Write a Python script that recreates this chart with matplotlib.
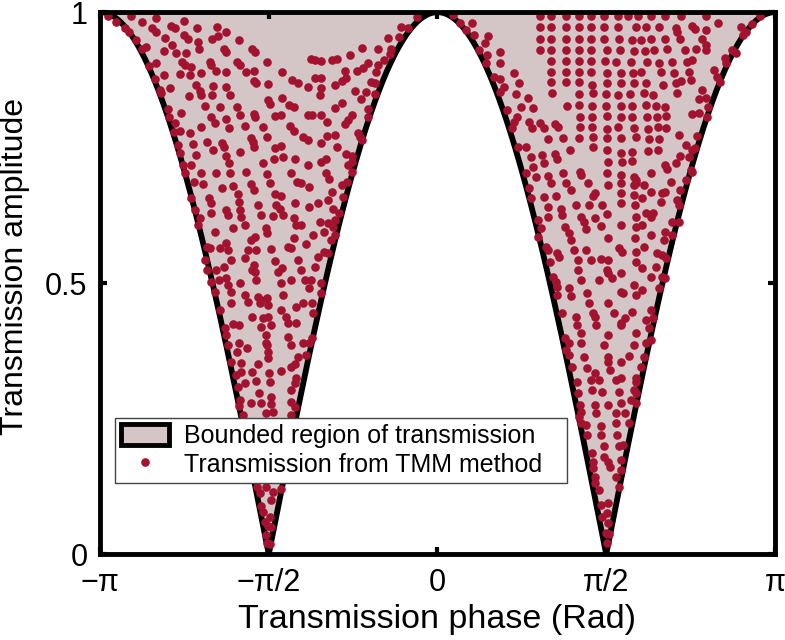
import numpy as np
import matplotlib.pyplot as plt
from matplotlib.patches import Patch
from matplotlib.lines import Line2D

plt.rcParams['font.family'] = ['Liberation Sans', 'DejaVu Sans']

fill_color = '#d4c6c7'
dot_color = '#a3132f'

# (phase in rad, amplitude)
left_top = [
    (-3.07, 0.993), (-2.99, 0.982), (-2.85, 0.993), (-2.75, 0.982), (-2.62, 0.989), (-2.48, 0.974),
    (-2.44, 0.970), (-2.36, 0.983), (-2.24, 0.970), (-2.05, 0.972), (-1.97, 0.963),
    (-2.91, 0.970), (-2.87, 0.963), (-2.66, 0.970), (-2.62, 0.963), (-2.54, 0.952), (-2.36, 0.958),
    (-2.32, 0.950), (-2.23, 0.945), (-2.22, 0.932), (-2.10, 0.950), (-2.04, 0.956), (-1.85, 0.948),
    (-2.81, 0.948), (-2.75, 0.932), (-2.71, 0.935), (-2.55, 0.928), (-2.47, 0.939), (-2.43, 0.924),
    (-2.34, 0.924), (-1.99, 0.932), (-1.97, 0.926), (-1.73, 0.932), (-1.70, 0.926), (-1.59, 0.908),
    (-2.69, 0.900), (-2.62, 0.906), (-2.38, 0.908), (-2.35, 0.902), (-2.29, 0.898), (-2.12, 0.908),
    (-2.11, 0.902), (-2.06, 0.891), (-1.97, 0.889), (-1.87, 0.908), (-1.84, 0.902), (-1.78, 0.889),
    (-1.71, 0.891), (-2.63, 0.876), (-2.55, 0.884), (-2.40, 0.886), (-2.30, 0.884), (-2.20, 0.887),
    (-2.25, 0.865), (-2.21, 0.854), (-2.20, 0.847), (-2.09, 0.863), (-1.97, 0.862), (-1.71, 0.873),
    (-1.69, 0.869), (-1.58, 0.867), (-2.49, 0.860), (-2.57, 0.851), (-2.31, 0.845), (-2.10, 0.847),
    (-1.93, 0.847), (-1.58, 0.838), (-1.56, 0.830), (-2.51, 0.821), (-2.39, 0.814), (-2.16, 0.827),
    (-2.02, 0.825), (-1.87, 0.825), (-1.84, 0.810), (-1.71, 0.812), (-1.70, 0.806), (-2.11, 0.806),
    (-2.07, 0.795), (-1.97, 0.803), (-2.50, 0.806), (-2.44, 0.795), (-2.20, 0.788), (-1.94, 0.786),
    (-1.79, 0.790), (-1.62, 0.788), (-1.59, 0.769), (-2.40, 0.780), (-2.30, 0.777), (-2.15, 0.760),
    (-2.01, 0.758), (-1.99, 0.751), (-1.74, 0.768), (-1.72, 0.760), (-2.28, 0.756), (-2.42, 0.755),
    (-2.40, 0.740), (-2.25, 0.736), (-2.09, 0.745), (-1.97, 0.734), (-1.84, 0.742), (-1.71, 0.751),
    (-1.62, 0.721), (-1.94, 0.721), (-2.37, 0.718), (-2.29, 0.718), (-2.58, 0.856), (-2.45, 0.779),
]

left_top_inner = [
    (-0.19, 0.991), (-0.34, 0.972), (-0.27, 0.970), (-0.36, 0.954), (-0.46, 0.952), (-0.55, 0.932),
    (-0.43, 0.932), (-0.44, 0.923), (-0.70, 0.934), (-0.81, 0.921), (-1.18, 0.913), (-1.14, 0.911),
    (-1.08, 0.910), (-0.98, 0.911), (-0.94, 0.913), (-0.65, 0.906), (-0.50, 0.911), (-0.55, 0.902),
    (-0.57, 0.889), (-0.69, 0.897), (-0.75, 0.891), (-0.86, 0.891), (-0.85, 0.878), (-0.89, 0.873),
    (-1.45, 0.889), (-1.35, 0.875), (-1.30, 0.869), (-1.21, 0.862), (-1.14, 0.878), (-1.08, 0.878),
    (-1.08, 0.860), (-1.09, 0.847), (-0.95, 0.865), (-0.77, 0.854), (-0.67, 0.852), (-0.71, 0.839),
    (-0.62, 0.871), (-0.58, 0.869), (-0.58, 0.849), (-1.45, 0.841), (-1.38, 0.828), (-1.34, 0.825),
    (-0.89, 0.832), (-0.95, 0.823), (-1.51, 0.808), (-1.46, 0.810), (-1.21, 0.810), (-1.17, 0.810),
    (-1.08, 0.810), (-0.80, 0.810), (-0.83, 0.801), (-0.86, 0.793), (-0.65, 0.821), (-0.65, 0.806),
    (-1.03, 0.797), (-1.37, 0.790), (-1.34, 0.780), (-1.25, 0.769), (-1.21, 0.764), (-1.08, 0.758),
    (-1.03, 0.771), (-0.95, 0.773), (-0.94, 0.751), (-0.74, 0.777), (-0.72, 0.769), (-0.70, 0.764),
    (-1.51, 0.749), (-1.46, 0.753), (-1.52, 0.729), (-1.44, 0.732), (-1.33, 0.729), (-1.21, 0.718),
    (-1.08, 0.723), (-1.04, 0.729), (-0.85, 0.738), (-0.80, 0.734), (-0.83, 0.718), (-0.80, 0.723),
]

left_mid = [
    (-2.35, 0.703), (-2.20, 0.703), (-2.06, 0.703), (-1.93, 0.703), (-1.78, 0.705), (-1.59, 0.701),
    (-1.36, 0.703), (-1.31, 0.686), (-1.27, 0.684), (-1.20, 0.677), (-1.04, 0.703), (-2.27, 0.686),
    (-2.18, 0.683), (-2.01, 0.675), (-1.90, 0.679), (-1.74, 0.683), (-1.71, 0.672), (-1.56, 0.684),
    (-1.51, 0.664), (-1.46, 0.661), (-1.86, 0.664), (-1.85, 0.649), (-2.13, 0.657), (-2.11, 0.648),
    (-2.11, 0.629), (-1.97, 0.635), (-1.95, 0.625), (-1.84, 0.635), (-1.83, 0.622), (-1.67, 0.644),
    (-1.64, 0.625), (-1.50, 0.644), (-1.47, 0.637), (-1.44, 0.625), (-1.53, 0.624), (-1.33, 0.648),
    (-1.20, 0.640), (-1.11, 0.648), (-1.02, 0.653), (-2.29, 0.657), (-2.26, 0.635), (-2.21, 0.620),
    (-2.23, 0.607), (-1.34, 0.620), (-1.32, 0.607), (-1.27, 0.607), (-1.09, 0.613), (-2.07, 0.594),
    (-1.90, 0.601), (-1.79, 0.607), (-1.60, 0.601), (-1.59, 0.592), (-1.70, 0.585), (-1.74, 0.579),
    (-1.76, 0.561), (-1.69, 0.561), (-1.55, 0.563), (-1.39, 0.566), (-1.34, 0.583), (-1.36, 0.565),
    (-1.22, 0.572), (-1.16, 0.589), (-1.06, 0.594), (-2.15, 0.566), (-2.12, 0.565), (-2.02, 0.565),
    (-1.97, 0.574), (-1.95, 0.561), (-1.92, 0.542), (-1.79, 0.546), (-1.71, 0.533), (-1.73, 0.524),
    (-1.70, 0.520), (-1.51, 0.541), (-1.48, 0.520), (-1.45, 0.528), (-1.30, 0.542), (-1.27, 0.524),
    (-1.14, 0.530), (-1.11, 0.548), (-1.06, 0.557), (-2.16, 0.542), (-2.15, 0.524), (-2.06, 0.524),
    (-1.99, 0.530), (-2.03, 0.506), (-1.97, 0.509), (-1.95, 0.496), (-1.84, 0.500), (-1.69, 0.506),
    (-1.46, 0.500), (-1.36, 0.506), (-1.23, 0.506), (-1.18, 0.506), (-1.20, 0.491), (-1.08, 0.500),
    (-2.11, 0.502), (-2.07, 0.483), (-1.92, 0.483), (-1.79, 0.478), (-1.76, 0.465), (-1.67, 0.474),
    (-1.64, 0.469), (-1.59, 0.472), (-1.58, 0.459), (-1.65, 0.463), (-1.44, 0.478), (-1.32, 0.456),
    (-1.25, 0.463), (-1.17, 0.463), (-1.16, 0.445), (-1.08, 0.482), (-2.02, 0.450), (-1.92, 0.463),
    (-1.73, 0.437), (-1.62, 0.435), (-1.58, 0.437), (-1.55, 0.423), (-1.46, 0.450), (-1.41, 0.437),
    (-1.39, 0.426), (-1.32, 0.426), (-1.64, 0.419), (-1.98, 0.417), (-1.90, 0.424), (-1.85, 0.423),
    (-1.97, 0.404), (-1.95, 0.386), (-1.85, 0.389), (-1.60, 0.404), (-1.60, 0.389), (-1.59, 0.386),
    (-1.39, 0.400), (-1.36, 0.386), (-1.25, 0.389), (-1.20, 0.389), (-1.17, 0.399),
    (-1.01, 0.692), (-0.80, 0.705), (-0.89, 0.681), (-0.84, 0.686), (-0.98, 0.668), (-0.88, 0.659),
    (-0.97, 0.637), (-0.92, 0.629), (-0.95, 0.616), (-1.02, 0.611), (-0.97, 0.603), (-0.95, 0.589),
    (-0.99, 0.579), (-1.02, 0.555),
]

left_low = [
    (-1.77, 0.380), (-1.58, 0.373), (-1.22, 0.367), (-1.30, 0.363), (-1.87, 0.373), (-1.92, 0.354),
    (-1.83, 0.352), (-1.67, 0.351), (-1.58, 0.362), (-1.73, 0.336), (-1.83, 0.336), (-1.88, 0.330),
    (-1.57, 0.334), (-1.46, 0.338), (-1.33, 0.351), (-1.36, 0.345), (-1.32, 0.325), (-1.33, 0.315),
    (-1.36, 0.303), (-1.56, 0.317), (-1.69, 0.319), (-1.79, 0.315), (-1.86, 0.308), (-1.66, 0.297),
    (-1.55, 0.290), (-1.55, 0.277), (-1.64, 0.279), (-1.74, 0.279), (-1.84, 0.284), (-1.85, 0.273),
    (-1.36, 0.280), (-1.33, 0.271), (-1.36, 0.256), (-1.60, 0.260), (-1.53, 0.262), (-1.81, 0.256),
    (-1.68, 0.124), (-1.60, 0.124), (-1.53, 0.114), (-1.46, 0.120), (-1.65, 0.113), (-1.55, 0.100),
    (-1.64, 0.089), (-1.62, 0.077), (-1.56, 0.068), (-1.61, 0.059), (-1.58, 0.052), (-1.55, 0.050),
    (-1.60, 0.035), (-1.59, 0.020), (-1.56, 0.018),
]

right_top_inner = [
    (0.14, 0.994), (0.21, 0.980), (0.27, 0.967), (0.32, 0.980), (0.34, 0.958), (0.47, 0.956),
    (0.44, 0.943), (0.39, 0.930), (0.46, 0.921), (0.45, 0.906), (0.58, 0.926), (0.58, 0.906),
    (0.53, 0.880), (0.58, 0.876), (0.62, 0.862), (0.71, 0.887), (0.76, 0.869), (0.73, 0.849),
    (0.58, 0.852), (0.84, 0.841), (0.78, 0.825), (0.89, 0.823), (0.65, 0.819), (0.74, 0.806),
    (0.71, 0.797), (0.69, 0.786), (0.85, 0.797), (0.88, 0.786), (0.95, 0.795), (0.99, 0.786),
    (1.09, 0.793), (1.12, 0.788), (1.03, 0.766), (1.17, 0.768), (0.75, 0.751), (0.82, 0.751),
    (0.87, 0.732), (0.97, 0.736), (0.99, 0.721), (1.09, 0.738), (1.11, 0.729), (1.23, 0.745),
    (0.89, 0.714),
]

right_grid = [
    (0.95, 0.993), (1.06, 0.993), (1.20, 0.993), (1.32, 0.993), (1.43, 0.993),
    (0.95, 0.972), (1.06, 0.972), (1.20, 0.972), (1.32, 0.972), (1.43, 0.972),
    (0.95, 0.950), (1.06, 0.950), (1.20, 0.950), (1.32, 0.950), (1.43, 0.950),
    (0.95, 0.930), (1.06, 0.930), (1.20, 0.930), (1.32, 0.930), (1.43, 0.930),
    (1.06, 0.910), (1.20, 0.910), (1.32, 0.910), (1.43, 0.910),
    (1.06, 0.889), (1.20, 0.889), (1.32, 0.889), (1.43, 0.889),
    (1.06, 0.871), (1.20, 0.871), (1.32, 0.871), (1.44, 0.865),
    (1.07, 0.851), (1.32, 0.849), (1.45, 0.851),
    (1.21, 0.827), (1.32, 0.828), (1.44, 0.827),
    (1.33, 0.806), (1.44, 0.806), (1.33, 0.788), (1.44, 0.788),
    (1.32, 0.768), (1.45, 0.769), (1.45, 0.751),
]

right_top_outer = [
    (1.55, 0.993), (1.68, 0.993), (1.77, 0.993), (1.87, 0.993), (1.99, 0.993), (2.12, 0.993),
    (2.27, 0.993), (2.50, 0.993),
    (1.55, 0.972), (1.68, 0.972), (1.85, 0.972), (1.94, 0.972), (2.06, 0.972), (2.22, 0.970),
    (2.23, 0.963), (2.37, 0.974), (2.40, 0.969), (2.50, 0.967), (2.61, 0.980), (2.83, 0.972),
    (2.93, 0.978), (3.00, 0.993),
    (1.55, 0.950), (1.69, 0.950), (1.81, 0.948), (1.89, 0.948), (1.99, 0.950), (2.12, 0.950),
    (2.26, 0.950), (2.46, 0.950), (2.50, 0.939), (2.50, 0.930), (2.87, 0.963), (2.84, 0.958),
    (1.58, 0.930), (1.70, 0.930), (1.83, 0.928), (1.93, 0.928), (2.02, 0.930), (2.14, 0.932),
    (2.30, 0.930), (2.41, 0.932), (2.74, 0.930), (2.78, 0.924),
    (1.56, 0.910), (1.66, 0.908), (1.80, 0.908), (1.95, 0.908), (2.06, 0.906), (2.18, 0.908),
    (2.32, 0.908), (2.37, 0.911), (2.68, 0.915), (2.69, 0.906),
    (1.58, 0.887), (1.71, 0.887), (1.82, 0.887), (1.89, 0.889), (2.08, 0.889), (2.20, 0.887),
    (2.34, 0.889), (2.57, 0.893), (2.60, 0.880), (2.63, 0.871),
    (1.58, 0.869), (1.71, 0.869), (1.83, 0.869), (1.94, 0.869), (2.10, 0.865), (2.22, 0.869),
    (2.27, 0.873), (2.36, 0.875), (2.46, 0.856), (2.50, 0.841),
    (1.57, 0.849), (1.68, 0.847), (1.79, 0.849), (1.92, 0.851), (2.01, 0.847), (2.23, 0.851),
    (2.43, 0.839), (2.52, 0.825),
    (1.57, 0.827), (1.71, 0.827), (1.81, 0.827), (1.94, 0.828), (2.03, 0.827), (2.12, 0.825),
    (2.37, 0.812), (2.43, 0.814),
    (1.58, 0.808), (1.71, 0.806), (1.81, 0.806), (1.95, 0.806), (2.04, 0.806), (2.13, 0.808),
    (2.51, 0.806),
    (1.58, 0.784), (1.68, 0.788), (1.83, 0.786), (1.96, 0.784), (2.05, 0.788), (2.13, 0.786),
    (2.25, 0.773), (2.42, 0.771),
    (1.58, 0.768), (1.71, 0.768), (1.85, 0.769), (1.97, 0.766), (2.06, 0.766), (2.31, 0.755),
    (2.40, 0.749), (2.37, 0.745),
    (1.58, 0.745), (1.71, 0.740), (1.81, 0.742), (1.96, 0.744), (2.05, 0.745), (2.26, 0.734),
    (2.34, 0.732),
    (1.59, 0.723), (1.72, 0.723), (1.81, 0.725), (2.12, 0.718), (2.14, 0.710), (2.22, 0.721),
    (2.36, 0.708),
]

right_mid = [
    (0.82, 0.703), (0.92, 0.696), (1.03, 0.697), (1.06, 0.684), (1.17, 0.703), (1.20, 0.684),
    (1.24, 0.672), (1.33, 0.705), (1.34, 0.699), (1.40, 0.684), (1.47, 0.666), (1.45, 0.661),
    (1.58, 0.703), (1.59, 0.681), (1.71, 0.699), (1.71, 0.684), (1.71, 0.666), (1.83, 0.696),
    (1.85, 0.690), (1.83, 0.681), (1.85, 0.684), (1.92, 0.681), (1.83, 0.662), (1.90, 0.657),
    (1.99, 0.668), (1.99, 0.703), (2.09, 0.666), (2.12, 0.668), (2.17, 0.686), (2.26, 0.672),
    (2.31, 0.690), (2.37, 0.705), (0.85, 0.675), (0.87, 0.657), (0.99, 0.659), (1.03, 0.640),
    (1.10, 0.661), (1.15, 0.637), (1.16, 0.625), (1.29, 0.644), (1.41, 0.644), (1.53, 0.644),
    (1.58, 0.627), (1.71, 0.648), (1.84, 0.644), (1.94, 0.629), (1.99, 0.622), (2.01, 0.629),
    (2.08, 0.649), (2.23, 0.653), (2.25, 0.644), (2.18, 0.613), (2.25, 0.613), (0.94, 0.616),
    (0.96, 0.601), (0.94, 0.585), (1.03, 0.622), (1.19, 0.603), (1.22, 0.592), (1.24, 0.579),
    (1.34, 0.622), (1.36, 0.613), (1.38, 0.600), (1.47, 0.620), (1.52, 0.605), (1.59, 0.583),
    (1.71, 0.607), (1.85, 0.622), (1.85, 0.603), (1.90, 0.607), (1.84, 0.583), (1.99, 0.589),
    (2.11, 0.579), (2.12, 0.594), (2.18, 0.589), (1.01, 0.566), (1.03, 0.561), (1.11, 0.555),
    (1.13, 0.548), (1.27, 0.561), (1.38, 0.561), (1.43, 0.542), (1.52, 0.544), (1.59, 0.542),
    (1.69, 0.565), (1.72, 0.557), (1.85, 0.557), (1.92, 0.566), (2.04, 0.555), (2.09, 0.552),
    (2.13, 0.546), (1.05, 0.539), (1.31, 0.542), (1.85, 0.539), (1.90, 0.528), (2.03, 0.530),
    (1.08, 0.511), (1.10, 0.502), (1.11, 0.493), (1.11, 0.478), (1.22, 0.491), (1.24, 0.476),
    (1.31, 0.524), (1.34, 0.506), (1.39, 0.482), (1.41, 0.463), (1.50, 0.506), (1.58, 0.524),
    (1.59, 0.518), (1.62, 0.509), (1.71, 0.518), (1.83, 0.496), (1.71, 0.483), (1.73, 0.482),
    (1.85, 0.478), (1.90, 0.487), (1.99, 0.511), (2.09, 0.511), (2.06, 0.491), (2.12, 0.509),
    (1.16, 0.445), (1.29, 0.437), (1.30, 0.423), (1.34, 0.408), (1.45, 0.445), (1.47, 0.437),
    (1.48, 0.423), (1.59, 0.463), (1.64, 0.445), (1.71, 0.426), (1.71, 0.423), (1.75, 0.435),
    (1.81, 0.446), (1.94, 0.432), (1.99, 0.450), (2.01, 0.435), (1.97, 0.417), (1.85, 0.408),
    (1.19, 0.399), (1.22, 0.389), (1.34, 0.389), (1.55, 0.386), (1.59, 0.404), (1.83, 0.386),
    (1.94, 0.389), (1.99, 0.395),
]

right_low = [
    (1.20, 0.376), (1.22, 0.367), (1.25, 0.345), (1.36, 0.363), (1.39, 0.343), (1.47, 0.334),
    (1.43, 0.321), (1.50, 0.321), (1.59, 0.363), (1.59, 0.354), (1.61, 0.339), (1.71, 0.354),
    (1.78, 0.365), (1.92, 0.363), (1.89, 0.345), (1.85, 0.325), (1.85, 0.317), (1.66, 0.321),
    (1.69, 0.299), (1.83, 0.303), (1.85, 0.297), (1.71, 0.325), (1.30, 0.317), (1.31, 0.297),
    (1.44, 0.303), (1.53, 0.299), (1.80, 0.284), (1.85, 0.279), (1.71, 0.279), (1.59, 0.275),
    (1.47, 0.275), (1.33, 0.275), (1.34, 0.262), (1.32, 0.253), (1.34, 0.242), (1.38, 0.238),
    (1.48, 0.260), (1.66, 0.260), (1.75, 0.260), (1.78, 0.242), (1.66, 0.242), (1.52, 0.236),
    (1.52, 0.220), (1.67, 0.220), (1.39, 0.220), (1.69, 0.199), (1.73, 0.201), (1.55, 0.199),
    (1.44, 0.186), (1.55, 0.179), (1.59, 0.170), (1.61, 0.161), (1.71, 0.173), (1.71, 0.155),
    (1.66, 0.142), (1.45, 0.170), (1.45, 0.159), (1.47, 0.142), (1.47, 0.131), (1.50, 0.118),
    (1.69, 0.124), (1.52, 0.090), (1.59, 0.094), (1.58, 0.076), (1.53, 0.068), (1.59, 0.057),
    (1.57, 0.039), (1.60, 0.037), (1.58, 0.020),
]

x_ticks = [-np.pi, -np.pi / 2, 0, np.pi / 2, np.pi]
x_labels = ['\u2212\u03c0', '\u2212\u03c0/2', '0', '\u03c0/2', '\u03c0']
y_ticks = [0, 0.5, 1]
y_labels = ['0', '0.5', '1']

fig = plt.figure(figsize=(7.85, 6.4), dpi=100)
ax = fig.add_axes([0.1274, 0.134, 0.8598, 0.847])

# analytic bound |t| >= |cos(phase)|
phase = np.linspace(-np.pi, np.pi, 2001)
bound = np.abs(np.cos(phase))
ax.fill_between(phase, bound, 1, color=fill_color, lw=0, zorder=1)
ax.plot(phase, bound, color='black', lw=4.2, zorder=2)

all_pts = left_top + left_top_inner + left_mid + left_low + right_top_inner + right_grid + right_top_outer + right_mid + right_low
ph = [p[0] for p in all_pts]
am = [p[1] for p in all_pts]
ax.plot(ph, am, ls='none', marker='o', ms=6.2, mew=0, color=dot_color, zorder=3)

ax.set_xlim(-np.pi, np.pi)
ax.set_ylim(0, 1)
ax.set_xticks(x_ticks)
ax.set_xticklabels(x_labels)
ax.set_yticks(y_ticks)
ax.set_yticklabels(y_labels)
ax.tick_params(direction='in', length=5, width=3, top=True, right=True, labelsize=22)
ax.tick_params(axis='x', pad=10)
ax.tick_params(axis='y', pad=9)
for s in ax.spines.values():
    s.set_linewidth(3.5)
    s.set_zorder(4)

ax.set_xlabel('Transmission phase (Rad)', fontsize=24.5, labelpad=4)
ax.set_ylabel('Transmission amplitude', fontsize=23)
ax.yaxis.set_label_coords(-0.103, 0.53)

handles = [
    Patch(facecolor=fill_color, edgecolor='black', linewidth=3.5),
    Line2D([], [], ls='none', marker='o', ms=6.2, mew=0, color=dot_color),
]
leg = ax.legend(handles, ['Bounded region of transmission', 'Transmission from TMM method'],
                loc='lower left', bbox_to_anchor=(0.022, 0.131, 0.67, 0.117), mode='expand',
                borderaxespad=0, fontsize=18, fancybox=False, framealpha=1, edgecolor='#444444',
                handlelength=1.9, handleheight=0.9, handletextpad=0.6,
                labelspacing=0.2, borderpad=0.25)
leg.get_frame().set_linewidth(1.0)
leg.set_zorder(5)

fig.savefig('out.png', dpi=100)
